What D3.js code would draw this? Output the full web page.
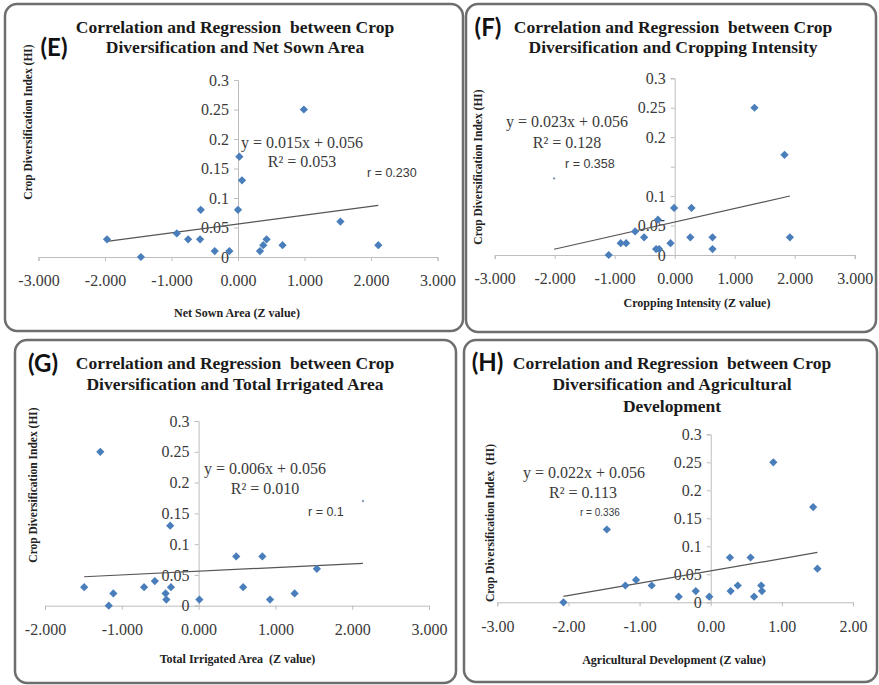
<!DOCTYPE html>
<html>
<head>
<meta charset="utf-8">
<script src="https://cdn.jsdelivr.net/npm/d3@7"></script>
<style>
  body { margin: 0; background: #fff; }
  svg { display: block; }
  .tick text { font-family: "Liberation Serif", "Times New Roman", serif; font-size: 16px; fill: #3a3a3a; }
</style>
</head>
<body>
<svg width="879" height="685"></svg>
<script>
// ---- data ----
const netSownX = [-1.97, -1.46, -0.92, -0.75, -0.57, -0.56, -0.35, -0.13, 0.00, 0.02, 0.06, 0.33, 0.38, 0.43, 0.67, 0.99, 1.54, 2.11];
const netSownY = [0.03, 0.00, 0.04, 0.03, 0.03, 0.08, 0.01, 0.01, 0.08, 0.17, 0.13, 0.01, 0.02, 0.03, 0.02, 0.25, 0.06, 0.02];

const croppingX = [-1.10, -0.90, -0.81, -0.66, -0.51, -0.28, -0.31, -0.26, -0.07, -0.01, 0.28, 0.26, 0.63, 0.63, 1.33, 1.83, 1.92];
const croppingY = [0.00, 0.02, 0.02, 0.04, 0.03, 0.06, 0.01, 0.01, 0.02, 0.08, 0.08, 0.03, 0.03, 0.01, 0.25, 0.17, 0.03];
const croppingFaintX = [-2.01];   // point drawn as a tiny dot in the original
const croppingFaintY = [0.13];

const irrigatedX = [-1.49, -1.28, -1.11, -1.17, -0.71, -0.57, -0.43, -0.42, -0.36, -0.37, 0.01, 0.49, 0.58, 0.83, 0.93, 1.25, 1.54];
const irrigatedY = [0.03, 0.25, 0.02, 0.00, 0.03, 0.04, 0.02, 0.01, 0.03, 0.13, 0.01, 0.08, 0.03, 0.08, 0.01, 0.02, 0.06];
const irrigatedFaintX = [2.14];
const irrigatedFaintY = [0.17];

const agriDevX = [-2.07, -1.46, -1.20, -1.05, -0.83, -0.45, -0.21, -0.02, 0.27, 0.28, 0.38, 0.56, 0.61, 0.71, 0.72, 0.88, 1.44, 1.50];
const agriDevY = [0.00, 0.13, 0.03, 0.04, 0.03, 0.01, 0.02, 0.01, 0.08, 0.02, 0.03, 0.08, 0.01, 0.03, 0.02, 0.25, 0.17, 0.06];

// regression coefficients as printed on the charts
const slopes = [0.015, 0.023, 0.006, 0.022];
const intercept = 0.056;
const equations = ['y = 0.015x + 0.056', 'y = 0.023x + 0.056', 'y = 0.006x + 0.056', 'y = 0.022x + 0.056'];
const rSquared = ['R² = 0.053', 'R² = 0.128', 'R² = 0.010', 'R² = 0.113'];
const rValues = ['r = 0.230', 'r = 0.358', 'r = 0.1', 'r = 0.336'];

// tick values and labels
const xTicksWide = [-3, -2, -1, 0, 1, 2, 3];
const xTicksG = [-2, -1, 0, 1, 2, 3];
const xTicksH = [-3, -2, -1, 0, 1, 2];
const yTicks = [0, 0.05, 0.1, 0.15, 0.2, 0.25, 0.3];
const yTickLabels = ['0', '0.05', '0.1', '0.15', '0.2', '0.25', '0.3'];

const titleLine1 = 'Correlation and Regression  between Crop';
const yTitle = 'Crop Diversification Index (HI)';

const panels = [
  {
    label: '(E)', labelPos: [54, 47],
    frame: [5, 4, 458, 327],
    title: [titleLine1, 'Diversification and Net Sown Area'], titleX: 235, titleY: [27, 47],
    xDomain: [-3, 3], xRange: [38.5, 437.5], yRange: [257, 80],
    xTicks: xTicksWide, fmt: '.3f', hideY: [],
    xs: netSownX, ys: netSownY, fx: [], fy: [],
    eqPos: [302, 142], r2Pos: [302, 161], rPos: [367, 173], rSize: 12.5,
    yTitlePos: [28, 122], yTitle: yTitle,
    xTitle: 'Net Sown Area (Z value)', xTitlePos: [237, 313]
  },
  {
    label: '(F)', labelPos: [488, 27],
    frame: [466, 4, 410, 328],
    title: [titleLine1, 'Diversification and Cropping Intensity'], titleX: 673, titleY: [27, 47],
    xDomain: [-3, 3], xRange: [494.7, 854.7], yRange: [255, 78.3],
    xTicks: xTicksWide, fmt: '.3f', hideY: [0.15],
    xs: croppingX, ys: croppingY, fx: croppingFaintX, fy: croppingFaintY,
    eqPos: [567, 121], r2Pos: [567, 142], rPos: [565, 164], rSize: 12.5,
    yTitlePos: [478, 167], yTitle: yTitle,
    xTitle: 'Cropping Intensity (Z value)', xTitlePos: [697, 303]
  },
  {
    label: '(G)', labelPos: [43, 363],
    frame: [15, 340, 441, 343],
    title: [titleLine1, 'Diversification and Total Irrigated Area'], titleX: 235, titleY: [363, 384],
    xDomain: [-2, 3], xRange: [45, 429], yRange: [605.7, 421],
    xTicks: xTicksG, fmt: '.3f', hideY: [],
    xs: irrigatedX, ys: irrigatedY, fx: irrigatedFaintX, fy: irrigatedFaintY,
    eqPos: [265, 468], r2Pos: [265, 488], rPos: [308, 512], rSize: 12.5,
    yTitlePos: [33, 485], yTitle: yTitle,
    xTitle: 'Total Irrigated Area  (Z value)', xTitlePos: [237.5, 659]
  },
  {
    label: '(H)', labelPos: [487.5, 362],
    frame: [464, 340, 413, 342],
    title: [titleLine1, 'Diversification and Agricultural', 'Development'], titleX: 672, titleY: [363, 384, 406],
    xDomain: [-3, 2], xRange: [497.3, 853], yRange: [602.3, 434.3],
    xTicks: xTicksH, fmt: '.2f', hideY: [],
    xs: agriDevX, ys: agriDevY, fx: [], fy: [],
    eqPos: [584, 472], r2Pos: [583, 492], rPos: [580, 512], rSize: 10,
    yTitlePos: [490, 523], yTitle: 'Crop Diversification Index  (HI)',
    xTitle: 'Agricultural Development (Z value)', xTitlePos: [674, 660]
  }
];

const svg = d3.select('svg');
const serif = '"Liberation Serif", "Times New Roman", serif';
const blue = '#4a7ebb';
const diamond = d3.symbol().type(d3.symbolSquare).size(34);
const faintDot = d3.symbol().type(d3.symbolSquare).size(4);

panels.forEach((p, i) => {
  const g = svg.append('g');

  // rounded frame
  g.append('rect')
    .attr('x', p.frame[0]).attr('y', p.frame[1])
    .attr('width', p.frame[2]).attr('height', p.frame[3])
    .attr('rx', 12)
    .attr('fill', '#fff')
    .attr('stroke', '#6e6e6e')
    .attr('stroke-width', 2.5);

  // panel letter
  g.append('text')
    .attr('x', p.labelPos[0]).attr('y', p.labelPos[1])
    .attr('dy', '0.36em')
    .attr('text-anchor', 'middle')
    .style('font-family', 'Lato, "Open Sans", sans-serif')
    .style('font-weight', 'bold')
    .style('font-size', '24px')
    .attr('fill', '#111')
    .text(p.label);

  // title
  p.title.forEach((line, k) => {
    g.append('text')
      .attr('x', p.titleX).attr('y', p.titleY[k])
      .attr('dy', '0.35em')
      .attr('text-anchor', 'middle')
      .style('white-space', 'pre')
      .style('font-family', serif)
      .style('font-weight', 'bold')
      .style('font-size', '17.5px')
      .attr('fill', '#1a1a1a')
      .text(line);
  });

  const x = d3.scaleLinear().domain(p.xDomain).range(p.xRange);
  const y = d3.scaleLinear().domain([0, 0.3]).range(p.yRange);

  // x axis
  const xAxis = g.append('g')
    .attr('transform', `translate(0,${y(0)})`)
    .call(d3.axisBottom(x).tickValues(p.xTicks)
      .tickFormat(d => d3.format(p.fmt)(d).replace('−', '-'))
      .tickSize(4).tickPadding(14));
  xAxis.attr('font-family', serif).attr('font-size', 16);
  xAxis.select('.domain').attr('stroke', '#bdbdbd');
  xAxis.selectAll('.tick line').attr('stroke', '#bdbdbd');

  // y axis at x = 0
  const yAxis = g.append('g')
    .attr('transform', `translate(${x(0)},0)`)
    .call(d3.axisLeft(y).tickValues(yTicks).tickSize(4).tickPadding(5)
      .tickFormat((d, k) => p.hideY.includes(d) ? '' : yTickLabels[k]));
  yAxis.attr('font-family', serif).attr('font-size', 16);
  yAxis.select('.domain').attr('stroke', '#bdbdbd');
  yAxis.selectAll('.tick line').attr('stroke', '#bdbdbd');

  // trend line over the data range
  const allX = p.xs.concat(p.fx);
  const ext = d3.extent(allX);
  const line = d3.line().x(d => x(d)).y(d => y(slopes[i] * d + intercept));
  g.append('path')
    .datum(ext)
    .attr('d', line)
    .attr('fill', 'none')
    .attr('stroke', '#555')
    .attr('stroke-width', 1.2);

  // points
  g.selectAll('.pt')
    .data(p.xs.map((v, k) => [v, p.ys[k]]))
    .enter().append('path')
    .attr('class', 'pt')
    .attr('d', diamond)
    .attr('transform', d => `translate(${x(d[0])},${y(d[1])}) rotate(45)`)
    .attr('fill', blue);

  g.selectAll('.faint')
    .data(p.fx.map((v, k) => [v, p.fy[k]]))
    .enter().append('path')
    .attr('class', 'faint')
    .attr('d', faintDot)
    .attr('transform', d => `translate(${x(d[0])},${y(d[1])}) rotate(45)`)
    .attr('fill', '#7d93b5');

  // equation labels
  g.append('text')
    .attr('x', p.eqPos[0]).attr('y', p.eqPos[1]).attr('dy', '0.35em')
    .attr('text-anchor', 'middle')
    .style('font-family', serif).style('font-size', '16px').attr('fill', '#3a3a3a')
    .text(equations[i]);
  g.append('text')
    .attr('x', p.r2Pos[0]).attr('y', p.r2Pos[1]).attr('dy', '0.35em')
    .attr('text-anchor', 'middle')
    .style('font-family', serif).style('font-size', '16px').attr('fill', '#3a3a3a')
    .text(rSquared[i]);
  g.append('text')
    .attr('x', p.rPos[0]).attr('y', p.rPos[1]).attr('dy', '0.35em')
    .style('font-family', '"Liberation Sans", Arial, sans-serif')
    .style('font-size', p.rSize + 'px').attr('fill', '#3a3a3a')
    .text(rValues[i]);

  // axis titles
  g.append('text')
    .attr('transform', `translate(${p.yTitlePos[0]},${p.yTitlePos[1]}) rotate(-90)`)
    .attr('dy', '0.35em')
    .attr('text-anchor', 'middle')
    .style('white-space', 'pre')
    .style('font-family', serif).style('font-weight', 'bold').style('font-size', '11.5px')
    .attr('fill', '#222')
    .text(p.yTitle);
  g.append('text')
    .attr('x', p.xTitlePos[0]).attr('y', p.xTitlePos[1]).attr('dy', '0.35em')
    .attr('text-anchor', 'middle')
    .style('white-space', 'pre')
    .style('font-family', serif).style('font-weight', 'bold').style('font-size', '12px')
    .attr('fill', '#222')
    .text(p.xTitle);
});
</script>
</body>
</html>
